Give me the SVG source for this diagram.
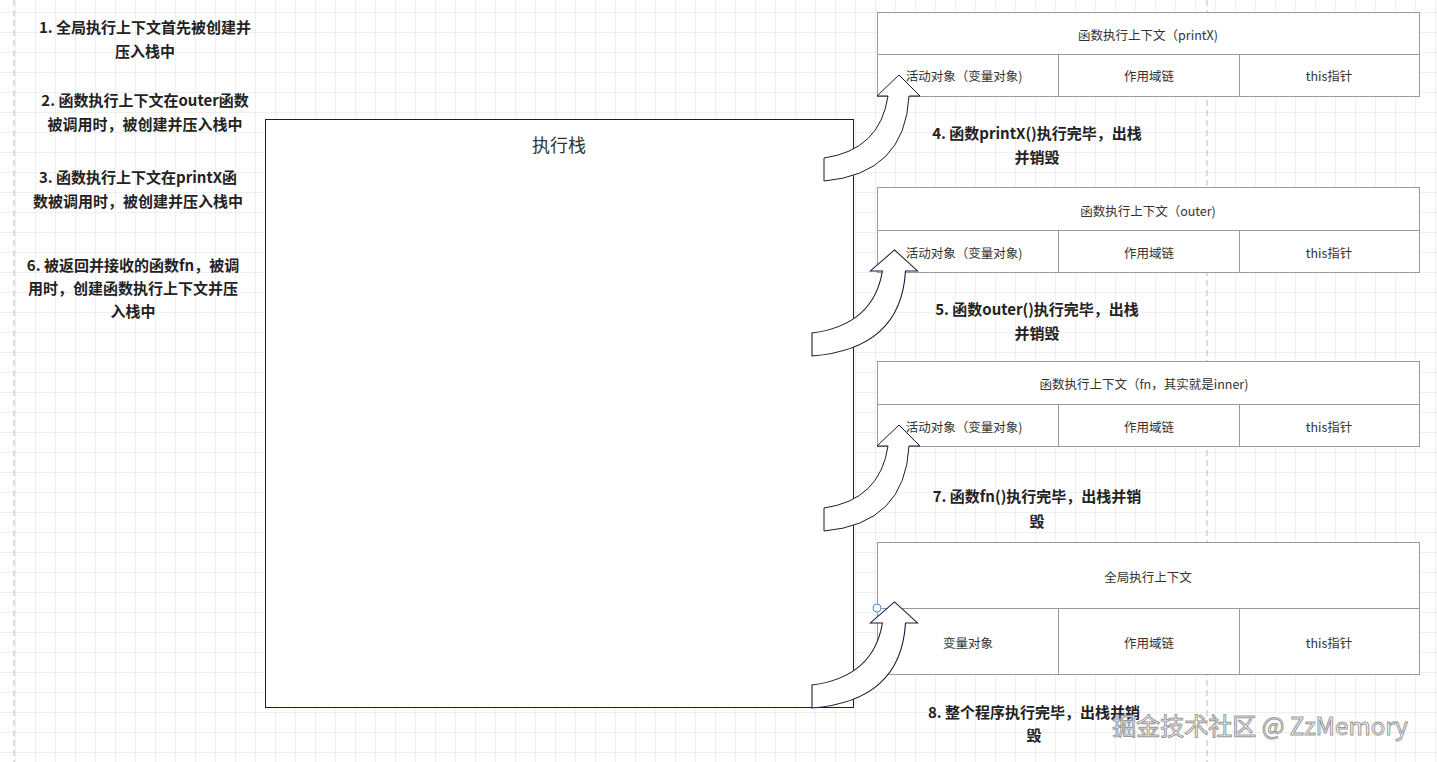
<svg xmlns="http://www.w3.org/2000/svg" width="1437" height="762" viewBox="0 0 1437 762">
<style>
.lb{font-family:"Noto Sans CJK SC","Liberation Sans",sans-serif;font-weight:bold;font-size:15px;fill:#222;text-anchor:middle}
.cl{font-family:"Noto Sans CJK SC","Liberation Sans",sans-serif;font-size:12.5px;fill:#333;text-anchor:middle;dominant-baseline:central}
.box{fill:#fff;stroke:#9a9a9a;stroke-width:1}
.arr{fill:#fff;stroke:#1a1a3a;stroke-width:1}
</style>
<defs>
<pattern id="g" x="15" y="12" width="20" height="20" patternUnits="userSpaceOnUse">
<path d="M0 0H20M0 0V20" fill="none" stroke="#e2e2e2" stroke-width="1"/>
</pattern>
<path id="ar" d="M0 0 Q56 -8 64 -62 L53 -62 L75 -83 L96 -62 L85 -62 Q81 16 0 23 Z"/>
</defs>
<rect width="1437" height="762" fill="#fff"/>
<rect width="1437" height="762" fill="url(#g)"/>
<line x1="14" y1="0" x2="14" y2="762" stroke="#bbb" stroke-dasharray="6 4"/>
<line x1="1207" y1="0" x2="1207" y2="762" stroke="#bbb" stroke-dasharray="6 4"/>
<g id="stack"><rect x="265.5" y="119.5" width="588" height="588" fill="#fff" stroke="#1a1a3a"/>
<text x="559" y="152" font-family="Noto Sans CJK SC,sans-serif" font-size="18" fill="#333" text-anchor="middle">执行栈</text></g>
<g id="t1"><rect class="box" x="877.5" y="12.5" width="542" height="42"/><rect class="box" x="877.5" y="54.5" width="181" height="42"/><rect class="box" x="1058.5" y="54.5" width="181" height="42"/><rect class="box" x="1239.5" y="54.5" width="180" height="42"/>
<text class="cl" x="1148" y="34">函数执行上下文（printX)</text><text class="cl" x="964" y="75">活动对象（变量对象)</text><text class="cl" x="1149" y="75">作用域链</text><text class="cl" x="1329" y="75">this指针</text></g>
<g id="t2"><rect class="box" x="877.5" y="187.5" width="542" height="43"/><rect class="box" x="877.5" y="230.5" width="181" height="42"/><rect class="box" x="1058.5" y="230.5" width="181" height="42"/><rect class="box" x="1239.5" y="230.5" width="180" height="42"/>
<text class="cl" x="1148" y="210">函数执行上下文（outer)</text><text class="cl" x="964" y="252">活动对象（变量对象)</text><text class="cl" x="1149" y="252">作用域链</text><text class="cl" x="1329" y="252">this指针</text></g>
<g id="t3"><rect class="box" x="877.5" y="361.5" width="542" height="43"/><rect class="box" x="877.5" y="404.5" width="181" height="42"/><rect class="box" x="1058.5" y="404.5" width="181" height="42"/><rect class="box" x="1239.5" y="404.5" width="180" height="42"/>
<text class="cl" x="1144" y="383">函数执行上下文（fn，其实就是inner)</text><text class="cl" x="964" y="426">活动对象（变量对象)</text><text class="cl" x="1149" y="426">作用域链</text><text class="cl" x="1329" y="426">this指针</text></g>
<g id="t4"><rect class="box" x="877.5" y="542.5" width="542" height="66"/><rect class="box" x="877.5" y="608.5" width="181" height="66"/><rect class="box" x="1058.5" y="608.5" width="181" height="66"/><rect class="box" x="1239.5" y="608.5" width="180" height="66"/>
<text class="cl" x="1148" y="576">全局执行上下文</text><text class="cl" x="968" y="642">变量对象</text><text class="cl" x="1149" y="642">作用域链</text><text class="cl" x="1329" y="642">this指针</text></g>
<g id="connectors">
<use href="#ar" class="arr" transform="translate(824,158)"/>
<use href="#ar" class="arr" transform="translate(812,333) scale(1.1,1)"/>
<use href="#ar" class="arr" transform="translate(824,508)"/>
<use href="#ar" class="arr" transform="translate(812,685) scale(1.1,1)"/>
<circle cx="877" cy="608" r="4" fill="#fff" stroke="#4a90d9"/>
</g>
<g id="labels">
<text class="lb"><tspan x="145" y="33">1. 全局执行上下文首先被创建并</tspan><tspan x="145" y="57">压入栈中</tspan></text>
<text class="lb"><tspan x="145" y="106">2. 函数执行上下文在outer函数</tspan><tspan x="145" y="130">被调用时，被创建并压入栈中</tspan></text>
<text class="lb"><tspan x="138" y="183">3. 函数执行上下文在printX函</tspan><tspan x="138" y="207">数被调用时，被创建并压入栈中</tspan></text>
<text class="lb"><tspan x="133" y="271">6. 被返回并接收的函数fn，被调</tspan><tspan x="133" y="294">用时，创建函数执行上下文并压</tspan><tspan x="133" y="317">入栈中</tspan></text>
<text class="lb"><tspan x="1037" y="139">4. 函数printX()执行完毕，出栈</tspan><tspan x="1037" y="163">并销毁</tspan></text>
<text class="lb"><tspan x="1037" y="315">5. 函数outer()执行完毕，出栈</tspan><tspan x="1037" y="339">并销毁</tspan></text>
<text class="lb"><tspan x="1037" y="502">7. 函数fn()执行完毕，出栈并销</tspan><tspan x="1037" y="527">毁</tspan></text>
<text class="lb"><tspan x="1034" y="718">8. 整个程序执行完毕，出栈并销</tspan><tspan x="1034" y="741">毁</tspan></text>
</g>
<text x="1260" y="735" font-family="Noto Sans CJK SC,sans-serif" font-size="24" fill="#fff" stroke="#999" stroke-width="1" text-anchor="middle">掘金技术社区 @ ZzMemory</text>
</svg>
